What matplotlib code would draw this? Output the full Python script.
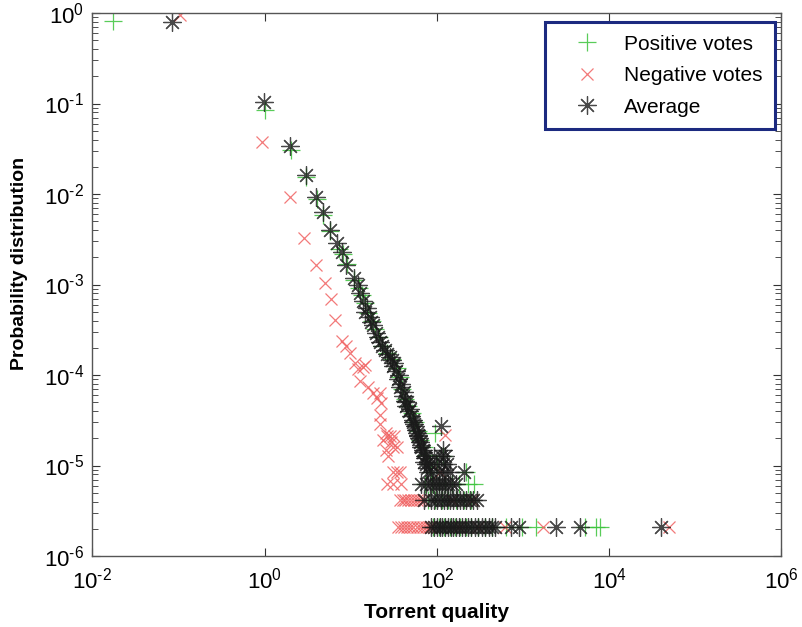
import numpy as np
import matplotlib
matplotlib.use("Agg")
import matplotlib.pyplot as plt
from matplotlib.ticker import LogLocator, NullLocator, FuncFormatter

plt.rcParams['font.family'] = ['Liberation Sans', 'DejaVu Sans']
plt.rcParams['mathtext.fontset'] = 'custom'
plt.rcParams['mathtext.rm'] = 'Liberation Sans'
plt.rcParams['axes.unicode_minus'] = False

# levels of the flat rows at the bottom (1, 2, 3 counts)
row1, row2, row3 = 2.1e-6, 4.2e-6, 6.3e-6

# Positive votes
pos_x = [0.0175, 1.0, 2.0, 3.05, 4.1, 4.8, 5.8, 7.2, 8.1, 9.0, 10.9, 12.5, 13.3, 14.5,
         16.0, 17.5, 19.0, 21.0, 23.0, 26.0, 30.0, 34.0, 37.0, 39.0, 43.0, 46.0, 51.0,
         56.0, 60.0, 64.0, 70.0, 74.0, 80.0, 85.0, 95.0, 100.0, 118.0, 215.0, 230.0]
pos_y = [0.82, 0.085, 0.031, 0.0155, 0.0089, 0.0059, 0.0039, 0.0025, 0.0022, 0.0017,
         1.12e-3, 9.2e-4, 7.6e-4, 6.2e-4, 4.8e-4, 4.0e-4, 3.2e-4, 2.6e-4, 2.1e-4,
         1.75e-4, 1.5e-4, 1.2e-4, 9.5e-5, 7.0e-5, 5.5e-5, 4.6e-5, 3.8e-5, 3.0e-5,
         2.4e-5, 1.9e-5, 1.6e-5, 1.3e-5, 1.05e-5, 8.4e-6, 2.3e-5, 1.05e-5, 1.26e-5,
         8.4e-6, 6.3e-6]
pos_row3 = [72, 88, 105, 125, 150, 180, 270]
pos_row2 = [78, 95, 115, 135, 165, 205, 250]
pos_row1 = [90, 105, 120, 140, 160, 185, 215, 250, 300, 360, 430, 640, 970, 1400,
            5200, 7100, 7800]

# Negative votes
neg_x = [0.103, 0.92, 1.95, 2.85, 3.9, 5.0, 5.95, 6.5, 7.8, 8.9, 9.7, 11.1, 12.1, 13.9,
         14.5, 12.7, 15.8, 18.0, 21.6, 22.5, 20.0, 21.6, 21.6, 23.6, 25.8, 28.2, 26.0,
         29.0, 32.0, 30.9, 34.0, 25.8, 26.9, 31.0, 34.0, 37.0, 26.0, 31.0, 38.0, 123.0,
         107.0]
neg_y = [0.95, 0.038, 0.0092, 0.0033, 0.00164, 0.00104, 7.0e-4, 4.1e-4, 2.4e-4, 2.1e-4,
         1.74e-4, 1.35e-4, 1.18e-4, 1.23e-4, 1.3e-4, 8.5e-5, 7.4e-5, 6.3e-5, 6.3e-5,
         4.9e-5, 5.6e-5, 3.6e-5, 2.9e-5, 1.9e-5, 2.3e-5, 2.1e-5, 2.1e-5, 1.8e-5, 2.1e-5,
         1.6e-5, 1.6e-5, 1.5e-5, 1.26e-5, 8.4e-6, 8.4e-6, 8.4e-6, 6.3e-6, 6.3e-6, 6.3e-6,
         2.2e-5, 8.4e-6]
neg_row2 = [37, 40, 43, 46, 50, 54, 58, 63, 68, 150, 255]
neg_row1 = [35, 38, 41, 45, 49, 53, 58, 63, 68, 74, 80, 86, 180, 300, 610, 1700, 50000]

# Average
avg_x = [0.084, 0.97, 1.95, 3.05, 3.98, 4.7, 5.7, 6.9, 7.8, 8.9, 10.8, 12.2, 12.7, 13.9,
         15.2, 16.6, 18.1, 19.8, 21.6, 23.0, 24.7, 28.2, 30.0, 32.0, 33.0, 35.0, 37.0,
         38.0, 40.0, 42.0, 44.0, 45.0, 47.0, 50.0, 52.0, 53.0, 55.0, 57.0, 58.0, 60.0,
         62.0, 63.0, 66.0, 68.0, 69.0, 70.0, 72.0, 75.0, 76.0, 78.0, 82.0, 84.0, 88.0,
         92.0, 97.0, 105.0, 110.0, 112.0, 118.0, 118.0, 120.0, 125.0, 130.0, 140.0, 205.0,
         14.6, 17.3, 20.5, 26.0, 31.0, 36.0, 41.0, 48.0, 54.0, 61.0, 65.0, 73.0]
avg_y = [0.80, 0.103, 0.034, 0.0162, 0.0093, 0.0063, 0.0040, 0.0029, 0.00227, 0.00164,
         1.19e-3, 9.9e-4, 8.0e-4, 6.5e-4, 5.5e-4, 4.4e-4, 3.6e-4, 2.9e-4, 2.3e-4, 2.1e-4,
         1.9e-4, 1.6e-4, 1.45e-4, 1.35e-4, 1.1e-4, 9.0e-5, 7.4e-5, 8.0e-5, 5.8e-5, 5.2e-5,
         4.5e-5, 5.0e-5, 4.0e-5, 3.5e-5, 3.0e-5, 3.2e-5, 2.7e-5, 2.5e-5, 2.3e-5, 2.1e-5,
         2.0e-5, 1.8e-5, 1.6e-5, 1.5e-5, 1.4e-5, 1.1e-5, 1.26e-5, 1.05e-5, 9.5e-6, 8.4e-6,
         6.3e-6, 1.05e-5, 8.4e-6, 1.26e-5, 1.05e-5, 8.4e-6, 1.26e-5, 2.7e-5, 1.05e-5,
         1.47e-5, 8.4e-6, 1.26e-5, 1.05e-5, 8.4e-6, 8.4e-6,
         5.0e-4, 3.9e-4, 2.6e-4, 1.7e-4, 1.25e-4, 1.0e-4, 6.5e-5, 4.2e-5, 2.9e-5, 2.2e-5,
         1.7e-5, 1.2e-5]
avg_row3 = [66, 74, 90, 98, 105, 115, 125, 135, 150, 165]
avg_row2 = [70, 85, 92, 100, 110, 120, 130, 140, 155, 170, 185, 200, 220, 240, 265, 290]
avg_row1 = [85, 92, 100, 108, 115, 125, 135, 145, 155, 165, 180, 195, 210, 230, 250, 275,
            300, 330, 360, 400, 440, 470, 720, 900, 2400, 4600, 40000]

px = pos_x + pos_row3 + pos_row2 + pos_row1
py = pos_y + [row3] * len(pos_row3) + [row2] * len(pos_row2) + [row1] * len(pos_row1)
nx = neg_x + neg_row2 + neg_row1
ny = neg_y + [row2] * len(neg_row2) + [row1] * len(neg_row1)
ax_ = avg_x + avg_row3 + avg_row2 + avg_row1
ay = avg_y + [row3] * len(avg_row3) + [row2] * len(avg_row2) + [row1] * len(avg_row1)


def pow10(v, pos):
    e = int(round(np.log10(v)))
    if e < 0:
        return r'$\mathdefault{10^{\text{-}%d}}$' % (-e)
    return r'$\mathdefault{10^{%d}}$' % e


fig = plt.figure(figsize=(8.02, 6.27), dpi=100)
ax = fig.add_axes([0.1153, 0.1132, 0.8591, 0.8660])

ax.plot(px, py, linestyle='none', marker='+', markersize=13, markeredgewidth=0.9,
        color='#3cc43c', alpha=0.85, label='Positive votes')
ax.plot(nx, ny, linestyle='none', marker='x', markersize=9, markeredgewidth=0.9,
        color='#f06262', alpha=0.85, label='Negative votes')
ax.plot(ax_, ay, linestyle='none', marker=(8, 2, 0), markersize=13, markeredgewidth=0.9,
        color='#1a1a1a', alpha=0.8, label='Average')

ax.set_xscale('log')
ax.set_yscale('log')
ax.set_xlim(1e-2, 1e6)
ax.set_ylim(1e-6, 1e0)
ax.xaxis.set_major_locator(LogLocator(base=100))
ax.xaxis.set_minor_locator(NullLocator())
ax.yaxis.set_major_locator(LogLocator(base=10))
ax.yaxis.set_minor_locator(LogLocator(base=10, subs=np.arange(2, 10)))
ax.xaxis.set_major_formatter(FuncFormatter(pow10))
ax.yaxis.set_major_formatter(FuncFormatter(pow10))

ax.tick_params(which='both', direction='in', top=True, right=True, colors='#333333',
               labelcolor='black', labelsize=16)
ax.tick_params(which='major', length=6, width=0.8)
ax.tick_params(which='minor', length=4, width=0.6)
ax.tick_params(axis='x', pad=8)
ax.tick_params(axis='y', pad=6)
for s in ax.spines.values():
    s.set_color('#555555')
    s.set_linewidth(1.0)

ax.set_xlabel('Torrent quality', fontsize=15, fontweight='bold', labelpad=7)
ax.set_ylabel('Probability distribution', fontsize=14, fontweight='bold')
ax.yaxis.set_label_coords(-0.0932, 0.5396)

leg = ax.legend(loc='upper right', bbox_to_anchor=(0.9663, 0.9649),
                bbox_transform=fig.transFigure, numpoints=1, fontsize=15,
                fancybox=False, borderaxespad=0, borderpad=0.6, labelspacing=0.6,
                handlelength=2.85, handletextpad=0.36)
frame = leg.get_frame()
frame.set_edgecolor('#1c2a80')
frame.set_linewidth(2.2)
frame.set_alpha(1)

fig.savefig('out.png', dpi=100)
